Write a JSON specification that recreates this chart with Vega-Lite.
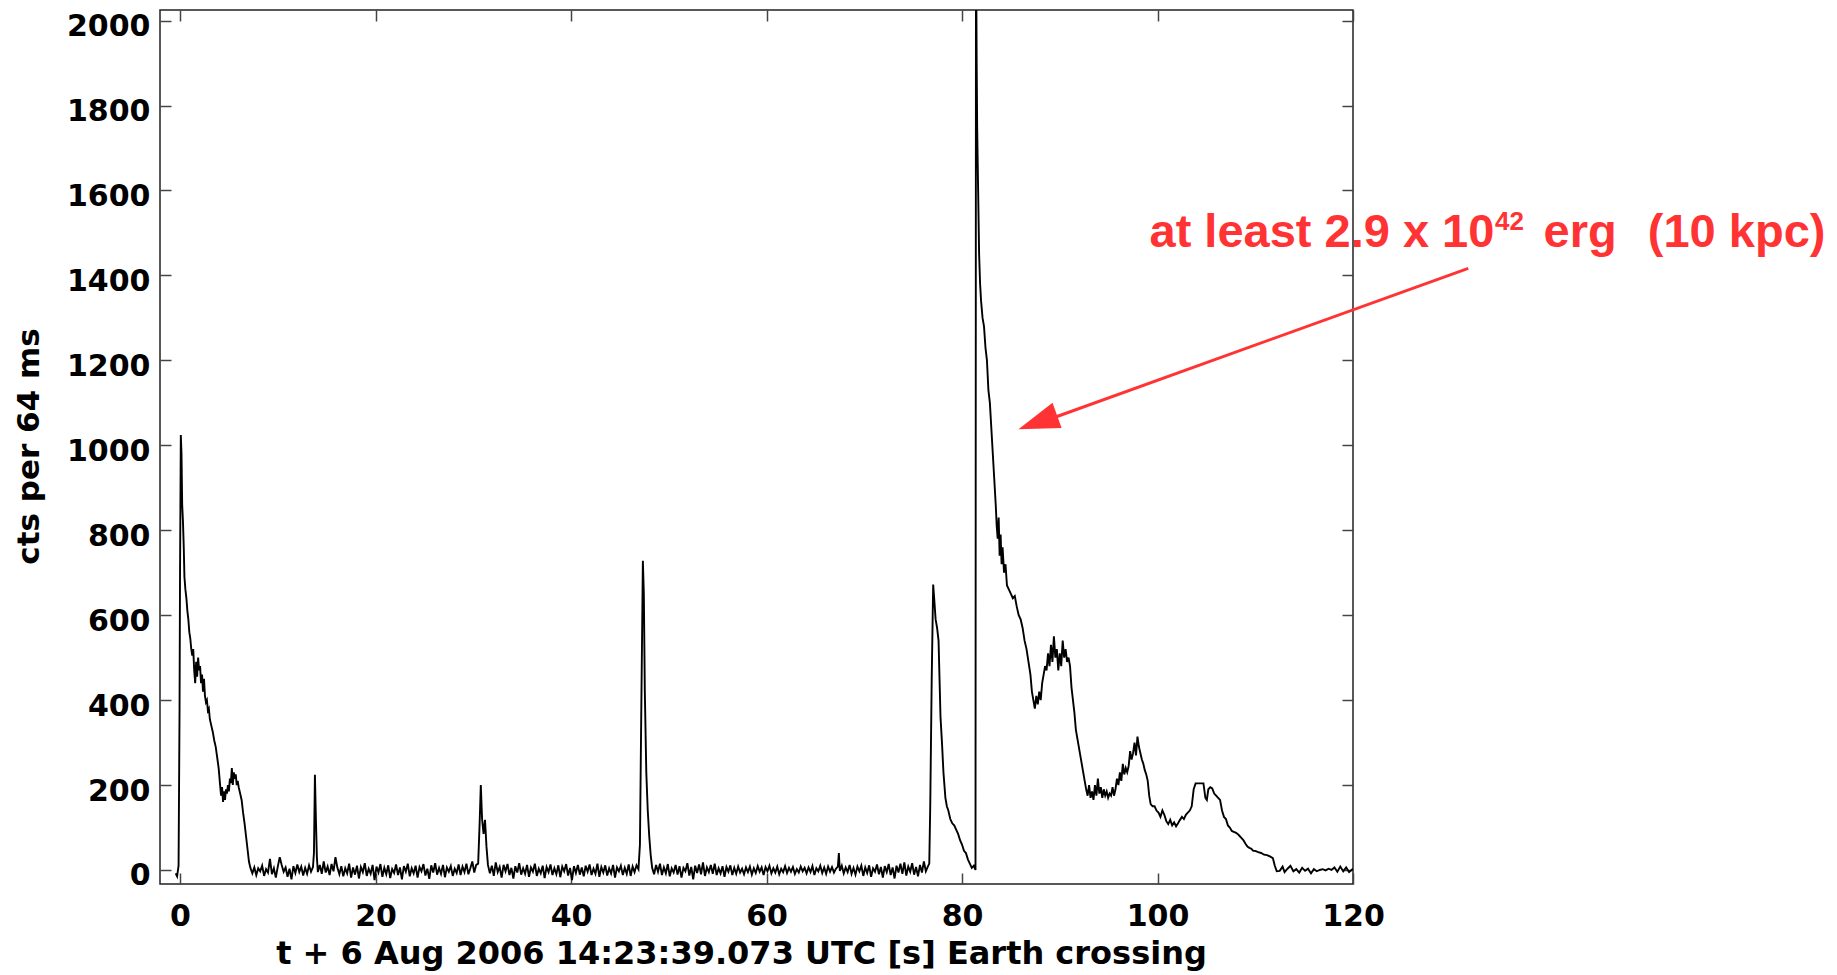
{
  "$schema": "https://vega.github.io/schema/vega-lite/v6.json",
  "width": 1193,
  "height": 874,
  "autosize": "none",
  "padding": {"left": 160, "top": 10, "right": 484, "bottom": 91},
  "background": "white",
  "datasets": {
    "lc": [
      {"t":-0.45,"c":-8},{"t":-0.3,"c":-15},{"t":-0.15,"c":10},{"t":-0.05,"c":380},{"t":0.0,"c":700},{"t":0.08,"c":1024},{"t":0.15,"c":980},{"t":0.22,"c":860},{"t":0.3,"c":820},{"t":0.38,"c":760},{"t":0.45,"c":690},{"t":0.55,"c":660},{"t":0.65,"c":640},{"t":0.75,"c":610},{"t":0.85,"c":590},{"t":0.95,"c":560},{"t":1.05,"c":545},{"t":1.15,"c":520},{"t":1.25,"c":505},{"t":1.35,"c":520},{"t":1.45,"c":470},{"t":1.55,"c":440},{"t":1.65,"c":490},{"t":1.75,"c":455},{"t":1.85,"c":500},{"t":1.95,"c":470},{"t":2.05,"c":480},{"t":2.15,"c":440},{"t":2.25,"c":460},{"t":2.35,"c":420},{"t":2.45,"c":450},{"t":2.55,"c":410},{"t":2.65,"c":395},{"t":2.75,"c":400},{"t":2.85,"c":375},{"t":2.95,"c":380},{"t":3.05,"c":355},{"t":3.2,"c":340},{"t":3.35,"c":325},{"t":3.5,"c":305},{"t":3.65,"c":290},{"t":3.8,"c":265},{"t":3.95,"c":240},{"t":4.1,"c":200},{"t":4.2,"c":175},{"t":4.3,"c":195},{"t":4.4,"c":160},{"t":4.5,"c":185},{"t":4.6,"c":165},{"t":4.7,"c":190},{"t":4.8,"c":180},{"t":4.9,"c":200},{"t":5.0,"c":185},{"t":5.1,"c":215},{"t":5.2,"c":205},{"t":5.3,"c":240},{"t":5.4,"c":200},{"t":5.5,"c":230},{"t":5.6,"c":215},{"t":5.7,"c":225},{"t":5.8,"c":200},{"t":5.9,"c":210},{"t":6.0,"c":195},{"t":6.15,"c":180},{"t":6.3,"c":165},{"t":6.45,"c":135},{"t":6.6,"c":110},{"t":6.75,"c":80},{"t":6.9,"c":50},{"t":7.05,"c":20},{"t":7.2,"c":5},
      {"t":7.4,"c":-8},{"t":7.6,"c":6},{"t":7.8,"c":-12},{"t":8.0,"c":4},{"t":8.2,"c":-3},{"t":8.4,"c":10},{"t":8.6,"c":-14},{"t":8.8,"c":2},{"t":9.0,"c":-6},{"t":9.2,"c":26},{"t":9.4,"c":-10},{"t":9.6,"c":4},{"t":9.8,"c":-18},{"t":10.0,"c":8},{"t":10.2,"c":30},{"t":10.4,"c":12},{"t":10.6,"c":-4},{"t":10.8,"c":6},{"t":11.0,"c":-16},{"t":11.2,"c":3},{"t":11.4,"c":-22},{"t":11.6,"c":9},{"t":11.8,"c":-7},{"t":12.0,"c":13},{"t":12.2,"c":-5},{"t":12.4,"c":8},{"t":12.6,"c":-13},{"t":12.8,"c":5},{"t":13.0,"c":-9},{"t":13.2,"c":11},{"t":13.4,"c":-4},{"t":13.6,"c":7},
      {"t":13.7,"c":40},{"t":13.8,"c":224},{"t":13.9,"c":120},{"t":14.0,"c":30},{"t":14.1,"c":-5},
      {"t":14.3,"c":12},{"t":14.5,"c":-9},{"t":14.7,"c":20},{"t":14.9,"c":-6},{"t":15.1,"c":8},{"t":15.3,"c":-12},{"t":15.5,"c":14},{"t":15.7,"c":-3},{"t":15.9,"c":30},{"t":16.1,"c":5},{"t":16.3,"c":-10},{"t":16.5,"c":9},{"t":16.7,"c":-15},{"t":16.9,"c":4},{"t":17.1,"c":-8},{"t":17.3,"c":15},{"t":17.5,"c":-18},{"t":17.7,"c":6},{"t":17.9,"c":-11},{"t":18.1,"c":10},{"t":18.3,"c":-20},{"t":18.5,"c":7},{"t":18.7,"c":-5},{"t":18.9,"c":16},{"t":19.1,"c":-14},{"t":19.3,"c":3},{"t":19.5,"c":-9},{"t":19.7,"c":12},{"t":19.9,"c":-24},{"t":20.1,"c":8},{"t":20.3,"c":-6},{"t":20.5,"c":14},{"t":20.7,"c":-16},{"t":20.9,"c":5},{"t":21.1,"c":-10},{"t":21.3,"c":11},{"t":21.5,"c":-19},{"t":21.7,"c":2},{"t":21.9,"c":-7},{"t":22.1,"c":13},{"t":22.3,"c":-12},{"t":22.5,"c":6},{"t":22.7,"c":-22},{"t":22.9,"c":9},{"t":23.1,"c":-4},{"t":23.3,"c":15},{"t":23.5,"c":-15},{"t":23.7,"c":4},{"t":23.9,"c":-8},{"t":24.1,"c":10},{"t":24.3,"c":-18},{"t":24.5,"c":7},{"t":24.7,"c":-3},{"t":24.9,"c":14},{"t":25.1,"c":-13},{"t":25.3,"c":3},{"t":25.5,"c":-21},{"t":25.7,"c":11},{"t":25.9,"c":-6},{"t":26.1,"c":16},{"t":26.3,"c":-11},{"t":26.5,"c":5},{"t":26.7,"c":-9},{"t":26.9,"c":12},{"t":27.1,"c":-17},{"t":27.3,"c":6},{"t":27.5,"c":-4},{"t":27.7,"c":9},{"t":27.9,"c":-14},{"t":28.1,"c":3},{"t":28.3,"c":-7},{"t":28.5,"c":13},{"t":28.7,"c":-12},{"t":28.9,"c":8},{"t":29.1,"c":-5},{"t":29.3,"c":15},{"t":29.5,"c":-10},{"t":29.7,"c":4},{"t":29.9,"c":20},{"t":30.1,"c":-6},{"t":30.3,"c":12},
      {"t":30.5,"c":15},{"t":30.65,"c":110},{"t":30.77,"c":200},{"t":30.9,"c":120},{"t":31.05,"c":85},{"t":31.2,"c":118},{"t":31.35,"c":55},{"t":31.5,"c":12},
      {"t":31.7,"c":-8},{"t":31.9,"c":10},{"t":32.1,"c":-14},{"t":32.3,"c":18},{"t":32.5,"c":-5},{"t":32.7,"c":7},{"t":32.9,"c":-18},{"t":33.1,"c":12},{"t":33.3,"c":-3},{"t":33.5,"c":14},{"t":33.7,"c":-12},{"t":33.9,"c":5},{"t":34.1,"c":-20},{"t":34.3,"c":9},{"t":34.5,"c":-6},{"t":34.7,"c":16},{"t":34.9,"c":-11},{"t":35.1,"c":4},{"t":35.3,"c":-9},{"t":35.5,"c":12},{"t":35.7,"c":-16},{"t":35.9,"c":6},{"t":36.1,"c":-4},{"t":36.3,"c":15},{"t":36.5,"c":-14},{"t":36.7,"c":3},{"t":36.9,"c":-8},{"t":37.1,"c":10},{"t":37.3,"c":-19},{"t":37.5,"c":7},{"t":37.7,"c":-5},{"t":37.9,"c":13},{"t":38.1,"c":-12},{"t":38.3,"c":4},{"t":38.5,"c":-10},{"t":38.7,"c":11},{"t":38.9,"c":-17},{"t":39.1,"c":8},{"t":39.3,"c":-3},{"t":39.5,"c":14},{"t":39.7,"c":-13},{"t":39.9,"c":5},{"t":40.1,"c":-24},{"t":40.3,"c":9},{"t":40.5,"c":-7},{"t":40.7,"c":12},{"t":40.9,"c":-11},{"t":41.1,"c":6},{"t":41.3,"c":-15},{"t":41.5,"c":10},{"t":41.7,"c":-4},{"t":41.9,"c":13},{"t":42.1,"c":-12},{"t":42.3,"c":3},{"t":42.5,"c":-9},{"t":42.7,"c":15},{"t":42.9,"c":-16},{"t":43.1,"c":7},{"t":43.3,"c":-6},{"t":43.5,"c":11},{"t":43.7,"c":-13},{"t":43.9,"c":4},{"t":44.1,"c":-8},{"t":44.3,"c":12},{"t":44.5,"c":-18},{"t":44.7,"c":6},{"t":44.9,"c":-3},{"t":45.1,"c":10},{"t":45.3,"c":-12},{"t":45.5,"c":5},{"t":45.7,"c":-9},{"t":45.9,"c":13},{"t":46.1,"c":-14},{"t":46.3,"c":8},{"t":46.5,"c":-5},{"t":46.7,"c":11},{"t":46.9,"c":2},
      {"t":47.05,"c":60},{"t":47.2,"c":400},{"t":47.35,"c":728},{"t":47.45,"c":650},{"t":47.55,"c":420},{"t":47.7,"c":230},{"t":47.85,"c":140},{"t":48.0,"c":80},{"t":48.15,"c":35},{"t":48.3,"c":5},
      {"t":48.5,"c":-10},{"t":48.7,"c":12},{"t":48.9,"c":-4},{"t":49.1,"c":15},{"t":49.3,"c":-12},{"t":49.5,"c":6},{"t":49.7,"c":-8},{"t":49.9,"c":14},{"t":50.1,"c":-15},{"t":50.3,"c":4},{"t":50.5,"c":-6},{"t":50.7,"c":12},{"t":50.9,"c":-11},{"t":51.1,"c":9},{"t":51.3,"c":-18},{"t":51.5,"c":5},{"t":51.7,"c":-3},{"t":51.9,"c":16},{"t":52.1,"c":-13},{"t":52.3,"c":7},{"t":52.5,"c":-22},{"t":52.7,"c":10},{"t":52.9,"c":-7},{"t":53.1,"c":13},{"t":53.3,"c":-10},{"t":53.5,"c":18},{"t":53.7,"c":-14},{"t":53.9,"c":6},{"t":54.1,"c":-5},{"t":54.3,"c":12},{"t":54.5,"c":-9},{"t":54.7,"c":15},{"t":54.9,"c":-12},{"t":55.1,"c":4},{"t":55.3,"c":-8},{"t":55.5,"c":9},{"t":55.7,"c":-16},{"t":55.9,"c":7},{"t":56.1,"c":-4},{"t":56.3,"c":11},{"t":56.5,"c":-12},{"t":56.7,"c":5},{"t":56.9,"c":-9},{"t":57.1,"c":8},{"t":57.3,"c":-6},{"t":57.5,"c":3},{"t":57.7,"c":-10},{"t":57.9,"c":6},{"t":58.1,"c":-5},{"t":58.3,"c":8},{"t":58.5,"c":-11},{"t":58.7,"c":4},{"t":58.9,"c":-7},{"t":59.1,"c":9},{"t":59.3,"c":-4},{"t":59.5,"c":6},{"t":59.7,"c":-12},{"t":59.9,"c":7},{"t":60.1,"c":-3},{"t":60.3,"c":10},{"t":60.5,"c":-8},{"t":60.7,"c":4},{"t":60.9,"c":-6},{"t":61.1,"c":8},{"t":61.3,"c":-10},{"t":61.5,"c":3},{"t":61.7,"c":-5},{"t":61.9,"c":9},{"t":62.1,"c":-7},{"t":62.3,"c":5},{"t":62.5,"c":-4},{"t":62.7,"c":7},{"t":62.9,"c":-9},{"t":63.1,"c":2},{"t":63.3,"c":-6},{"t":63.5,"c":8},{"t":63.7,"c":-3},{"t":63.9,"c":5},{"t":64.1,"c":-8},{"t":64.3,"c":6},{"t":64.5,"c":-5},{"t":64.7,"c":9},{"t":64.9,"c":-12},{"t":65.1,"c":4},{"t":65.3,"c":-3},{"t":65.5,"c":10},{"t":65.7,"c":-7},{"t":65.9,"c":6},{"t":66.1,"c":-9},{"t":66.3,"c":8},{"t":66.5,"c":-4},{"t":66.7,"c":7},{"t":66.9,"c":-6},{"t":67.1,"c":3},{"t":67.3,"c":8},{"t":67.4,"c":40},{"t":67.5,"c":-2},{"t":67.7,"c":10},{"t":67.9,"c":-8},{"t":68.1,"c":6},{"t":68.3,"c":-5},{"t":68.5,"c":12},{"t":68.7,"c":-9},{"t":68.9,"c":5},{"t":69.1,"c":-11},{"t":69.3,"c":8},{"t":69.5,"c":-3},{"t":69.7,"c":10},{"t":69.9,"c":-14},{"t":70.1,"c":6},{"t":70.3,"c":-7},{"t":70.5,"c":11},{"t":70.7,"c":-16},{"t":70.9,"c":4},{"t":71.1,"c":-4},{"t":71.3,"c":13},{"t":71.5,"c":-10},{"t":71.7,"c":7},{"t":71.9,"c":-18},{"t":72.1,"c":9},{"t":72.3,"c":-5},{"t":72.5,"c":14},{"t":72.7,"c":-12},{"t":72.9,"c":6},{"t":73.1,"c":-20},{"t":73.3,"c":10},{"t":73.5,"c":-6},{"t":73.7,"c":15},{"t":73.9,"c":-9},{"t":74.1,"c":18},{"t":74.3,"c":-13},{"t":74.5,"c":8},{"t":74.7,"c":-4},{"t":74.9,"c":16},{"t":75.1,"c":-11},{"t":75.3,"c":7},{"t":75.5,"c":-15},{"t":75.7,"c":12},{"t":75.9,"c":-6},{"t":76.1,"c":20},{"t":76.3,"c":-3},{"t":76.5,"c":8},
      {"t":76.65,"c":15},{"t":76.75,"c":150},{"t":76.9,"c":450},{"t":77.05,"c":672},{"t":77.15,"c":640},{"t":77.3,"c":590},{"t":77.45,"c":570},{"t":77.6,"c":540},{"t":77.7,"c":450},{"t":77.8,"c":360},{"t":77.95,"c":300},{"t":78.1,"c":230},{"t":78.3,"c":170},{"t":78.45,"c":150},{"t":78.6,"c":140},{"t":78.8,"c":120},{"t":79.0,"c":110},{"t":79.2,"c":105},{"t":79.4,"c":95},{"t":79.6,"c":85},{"t":79.8,"c":70},{"t":80.0,"c":60},{"t":80.2,"c":45},{"t":80.4,"c":40},{"t":80.6,"c":25},{"t":80.8,"c":15},{"t":81.0,"c":5},{"t":81.2,"c":10},{"t":81.38,"c":0},{"t":81.43,"c":2200},
      {"t":81.5,"c":1900},{"t":81.55,"c":1750},{"t":81.65,"c":1600},{"t":81.75,"c":1450},{"t":81.85,"c":1380},{"t":81.95,"c":1340},{"t":82.1,"c":1300},{"t":82.25,"c":1280},{"t":82.4,"c":1230},{"t":82.55,"c":1200},{"t":82.7,"c":1130},{"t":82.85,"c":1100},{"t":83.0,"c":1040},{"t":83.15,"c":980},{"t":83.3,"c":920},{"t":83.45,"c":860},{"t":83.55,"c":810},{"t":83.65,"c":780},{"t":83.75,"c":830},{"t":83.85,"c":740},{"t":83.95,"c":790},{"t":84.05,"c":720},{"t":84.15,"c":760},{"t":84.3,"c":700},{"t":84.45,"c":720},{"t":84.6,"c":670},{"t":84.8,"c":660},{"t":85.0,"c":650},{"t":85.2,"c":640},{"t":85.4,"c":645},{"t":85.6,"c":620},{"t":85.8,"c":600},{"t":86.0,"c":590},{"t":86.2,"c":570},{"t":86.4,"c":540},{"t":86.6,"c":520},{"t":86.8,"c":490},{"t":87.0,"c":460},{"t":87.15,"c":420},{"t":87.3,"c":400},{"t":87.45,"c":380},{"t":87.6,"c":410},{"t":87.75,"c":390},{"t":87.9,"c":420},{"t":88.05,"c":400},{"t":88.2,"c":440},{"t":88.35,"c":460},{"t":88.5,"c":480},{"t":88.65,"c":470},{"t":88.8,"c":510},{"t":88.95,"c":480},{"t":89.1,"c":530},{"t":89.25,"c":490},{"t":89.4,"c":550},{"t":89.55,"c":500},{"t":89.7,"c":520},{"t":89.85,"c":470},{"t":90.0,"c":510},{"t":90.15,"c":480},{"t":90.3,"c":540},{"t":90.45,"c":500},{"t":90.6,"c":520},{"t":90.75,"c":490},{"t":90.9,"c":500},{"t":91.05,"c":480},{"t":91.2,"c":430},{"t":91.35,"c":400},{"t":91.5,"c":370},{"t":91.65,"c":330},{"t":91.8,"c":310},{"t":91.95,"c":290},{"t":92.1,"c":270},{"t":92.25,"c":250},{"t":92.4,"c":230},{"t":92.55,"c":210},{"t":92.7,"c":190},{"t":92.85,"c":175},{"t":93.0,"c":200},{"t":93.15,"c":170},{"t":93.3,"c":185},{"t":93.45,"c":165},{"t":93.6,"c":200},{"t":93.75,"c":175},{"t":93.9,"c":215},{"t":94.05,"c":180},{"t":94.2,"c":195},{"t":94.35,"c":170},{"t":94.5,"c":190},{"t":94.65,"c":175},{"t":94.8,"c":185},{"t":94.95,"c":170},{"t":95.1,"c":180},{"t":95.25,"c":175},{"t":95.4,"c":195},{"t":95.55,"c":175},{"t":95.7,"c":190},{"t":95.85,"c":215},{"t":96.0,"c":200},{"t":96.15,"c":230},{"t":96.3,"c":210},{"t":96.45,"c":250},{"t":96.6,"c":225},{"t":96.75,"c":240},{"t":96.9,"c":230},{"t":97.05,"c":245},{"t":97.2,"c":280},{"t":97.35,"c":260},{"t":97.5,"c":275},{"t":97.65,"c":300},{"t":97.8,"c":270},{"t":97.95,"c":314},{"t":98.1,"c":290},{"t":98.25,"c":275},{"t":98.4,"c":260},{"t":98.55,"c":250},{"t":98.7,"c":235},{"t":98.85,"c":225},{"t":99.0,"c":210},{"t":99.15,"c":175},{"t":99.3,"c":155},{"t":99.5,"c":150},{"t":99.7,"c":150},{"t":99.9,"c":140},{"t":100.1,"c":135},{"t":100.3,"c":125},{"t":100.5,"c":140},{"t":100.7,"c":130},{"t":100.9,"c":115},{"t":101.1,"c":108},{"t":101.3,"c":118},{"t":101.5,"c":105},{"t":101.7,"c":112},{"t":101.9,"c":103},{"t":102.1,"c":110},{"t":102.3,"c":118},{"t":102.5,"c":125},{"t":102.7,"c":120},{"t":102.9,"c":130},{"t":103.1,"c":135},{"t":103.3,"c":140},{"t":103.5,"c":150},{"t":103.7,"c":190},{"t":103.9,"c":204},{"t":104.1,"c":204},{"t":104.3,"c":204},{"t":104.5,"c":204},{"t":104.7,"c":204},{"t":104.9,"c":170},{"t":105.05,"c":165},{"t":105.2,"c":190},{"t":105.4,"c":195},{"t":105.6,"c":192},{"t":105.8,"c":180},{"t":106.0,"c":175},{"t":106.2,"c":170},{"t":106.4,"c":165},{"t":106.6,"c":140},{"t":106.8,"c":125},{"t":107.0,"c":120},{"t":107.2,"c":105},{"t":107.4,"c":100},{"t":107.6,"c":92},{"t":107.8,"c":90},{"t":108.0,"c":88},{"t":108.2,"c":85},{"t":108.4,"c":80},{"t":108.6,"c":75},{"t":108.8,"c":70},{"t":109.0,"c":62},{"t":109.2,"c":55},{"t":109.4,"c":52},{"t":109.6,"c":50},{"t":109.8,"c":45},{"t":110.0,"c":45},{"t":110.3,"c":42},{"t":110.6,"c":40},{"t":110.9,"c":36},{"t":111.2,"c":35},{"t":111.5,"c":32},{"t":111.8,"c":28},{"t":112.0,"c":10},{"t":112.2,"c":-3},{"t":112.5,"c":-2},{"t":112.8,"c":8},{"t":113.0,"c":-5},{"t":113.3,"c":3},{"t":113.6,"c":10},{"t":113.9,"c":-3},{"t":114.2,"c":2},{"t":114.5,"c":-6},{"t":114.8,"c":5},{"t":115.1,"c":-2},{"t":115.4,"c":3},{"t":115.7,"c":-8},{"t":116.0,"c":2},{"t":116.3,"c":-3},{"t":116.6,"c":0},{"t":116.9,"c":2},{"t":117.2,"c":-1},{"t":117.5,"c":3},{"t":117.8,"c":0},{"t":118.1,"c":6},{"t":118.4,"c":-4},{"t":118.7,"c":8},{"t":119.0,"c":-3},{"t":119.3,"c":6},{"t":119.6,"c":-5},{"t":120.0,"c":3}
    ]
  },
  "config": {
    "view": {"stroke": "#222", "strokeWidth": 1.5},
    "axis": {
      "labelFont": "DejaVu Sans", "labelFontWeight": "bold", "labelFontSize": 30, "labelColor": "#000",
      "titleFont": "DejaVu Sans", "titleFontWeight": "bold", "titleFontSize": 31, "titleColor": "#000",
      "tickColor": "#444", "tickWidth": 1.5, "tickSize": -11, "domain": false, "grid": false
    }
  },
  "resolve": {"axis": {"x": "independent", "y": "independent"}},
  "layer": [
    {
      "data": {"name": "lc"},
      "mark": {"type": "line", "color": "#000", "strokeWidth": 1.9, "clip": true},
      "encoding": {
        "x": {"field": "t", "type": "quantitative",
          "scale": {"domain": [-2.05, 120], "nice": false, "zero": false},
          "axis": {"orient": "bottom", "values": [0, 20, 40, 60, 80, 100, 120], "format": "d", "labelBaseline": "alphabetic", "labelPadding": 52, "labelFlush": false,
            "title": "t + 6 Aug 2006 14:23:39.073 UTC [s] Earth crossing", "titleFontSize": 32, "titleX": 581, "titleY": 79, "titleBaseline": "alphabetic", "titleAnchor": "middle", "titleAlign": "center"}},
        "y": {"field": "c", "type": "quantitative",
          "scale": {"domain": [-33, 2025], "nice": false, "zero": false},
          "axis": {"orient": "left", "values": [0, 200, 400, 600, 800, 1000, 1200, 1400, 1600, 1800, 2000], "format": "d", "labelAlign": "right", "labelBaseline": "alphabetic", "labelOffset": 15, "labelPadding": 21, "labelFlush": false,
            "title": "cts per 64 ms", "titleAngle": -90, "titleX": -122, "titleY": 436, "titleBaseline": "alphabetic", "titleAlign": "center"}}
      }
    },
    {
      "data": {"name": "lc"},
      "mark": {"type": "line", "strokeOpacity": 0, "clip": true},
      "encoding": {
        "x": {"field": "t", "type": "quantitative",
          "axis": {"orient": "top", "values": [0, 20, 40, 60, 80, 100, 120], "labels": false, "title": null}},
        "y": {"field": "c", "type": "quantitative",
          "axis": {"orient": "right", "values": [0, 200, 400, 600, 800, 1000, 1200, 1400, 1600, 1800, 2000], "labels": false, "title": null}}
      }
    },
    {
      "data": {"values": [{"part": "arrow"}]},
      "mark": {"type": "rule", "color": "#FF3333", "strokeWidth": 3},
      "encoding": {
        "x": {"datum": 131.79, "type": "quantitative", "axis": null},
        "y": {"datum": 1416.8, "type": "quantitative", "axis": null},
        "x2": {"datum": 88.3},
        "y2": {"datum": 1056}
      }
    },
    {
      "data": {"values": [{"part": "arrowhead"}]},
      "mark": {"type": "point", "shape": "M1,0L-1,-0.66L-1,0.66Z", "size": 1681, "angle": 160.3, "filled": true, "color": "#FF3333", "opacity": 1, "strokeWidth": 0},
      "encoding": {
        "x": {"datum": 87.75, "type": "quantitative", "axis": null},
        "y": {"datum": 1054.2, "type": "quantitative", "axis": null}
      }
    },
    {
      "data": {"values": [{"label": "at least 2.9 x 10"}]},
      "mark": {"type": "text", "align": "left", "baseline": "alphabetic", "font": "Liberation Sans", "fontWeight": "bold", "fontSize": 47, "color": "#FF3333"},
      "encoding": {
        "x": {"datum": 99.18, "type": "quantitative", "axis": null},
        "y": {"datum": 1467.6, "type": "quantitative", "axis": null},
        "text": {"field": "label"}
      }
    },
    {
      "data": {"values": [{"label": "42"}]},
      "mark": {"type": "text", "align": "left", "baseline": "alphabetic", "font": "Liberation Sans", "fontWeight": "bold", "fontSize": 26, "color": "#FF3333"},
      "encoding": {
        "x": {"datum": 134.52, "type": "quantitative", "axis": null},
        "y": {"datum": 1507.9, "type": "quantitative", "axis": null},
        "text": {"field": "label"}
      }
    },
    {
      "data": {"values": [{"label": "erg"}]},
      "mark": {"type": "text", "align": "left", "baseline": "alphabetic", "font": "Liberation Sans", "fontWeight": "bold", "fontSize": 47, "color": "#FF3333"},
      "encoding": {
        "x": {"datum": 139.5, "type": "quantitative", "axis": null},
        "y": {"datum": 1467.6, "type": "quantitative", "axis": null},
        "text": {"field": "label"}
      }
    },
    {
      "data": {"values": [{"label": "(10 kpc)"}]},
      "mark": {"type": "text", "align": "left", "baseline": "alphabetic", "font": "Liberation Sans", "fontWeight": "bold", "fontSize": 47, "color": "#FF3333"},
      "encoding": {
        "x": {"datum": 150.16, "type": "quantitative", "axis": null},
        "y": {"datum": 1467.6, "type": "quantitative", "axis": null},
        "text": {"field": "label"}
      }
    }
  ]
}
